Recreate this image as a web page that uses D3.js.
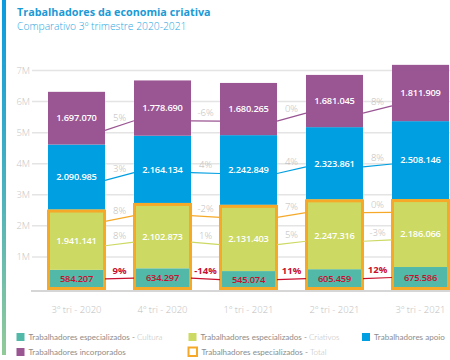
<!DOCTYPE html>
<html>
<head>
<meta charset="utf-8">
<script src="https://cdn.jsdelivr.net/npm/d3@7"></script>
<style>
  html, body { margin: 0; padding: 0; background: #fff; }
  svg { display: block; font-family: "Open Sans", "Noto Sans", sans-serif; }
</style>
</head>
<body>
<svg id="chart" width="450" height="360"></svg>
<script>
// ---- Data ----
const title = "Trabalhadores da economia criativa";
const subtitle = "Comparativo 3º trimestre 2020-2021";
const categories = ["3º tri - 2020", "4º tri - 2020", "1º tri - 2021", "2º tri - 2021", "3º tri - 2021"];
const cultura      = [584207, 634297, 545074, 605459, 675586];
const criativos    = [1941141, 2102873, 2131403, 2247316, 2186066];
const apoio        = [2090985, 2164134, 2242849, 2323861, 2508146];
const incorporados = [1697070, 1778690, 1680265, 1681045, 1811909];
const yTicks = [1000000, 2000000, 3000000, 4000000, 5000000, 6000000, 7000000];
const yTickLabels = ["1M", "2M", "3M", "4M", "5M", "6M", "7M"];
const seriesKeys = ["cultura", "criativos", "apoio", "incorporados"];
const legendMain = ["Trabalhadores especializados - ", "Trabalhadores especializados - ", "Trabalhadores apoio", "Trabalhadores incorporados", "Trabalhadores especializados - "];
const legendSub  = ["Cultura", "Criativos", "", "", "Total"];

// ---- Styles ----
const colors = { cultura: "#52b9a9", criativos: "#ccd962", apoio: "#009fe1", incorporados: "#9a5593" };
const lineColors = { cultura: "#c8102e", criativos: "#ccd962", apoio: "#009fe1", incorporados: "#9a5593", total: "#f6a929" };
const anchorFrac = { cultura: 0.5, criativos: 0.4, apoio: 0.45, incorporados: 0.27 };
const orange = "#f6a929";
const red = "#c8102e";

const svg = d3.select("#chart");

// left gradient strip
const defs = svg.append("defs");
const grad = defs.append("linearGradient").attr("id", "strip").attr("x1", 0).attr("y1", 0).attr("x2", 0).attr("y2", 1);
grad.append("stop").attr("offset", "0%").attr("stop-color", "#0a9be0");
grad.append("stop").attr("offset", "55%").attr("stop-color", "#4db3bd");
grad.append("stop").attr("offset", "100%").attr("stop-color", "#92ca98");
svg.append("rect").attr("x", 2).attr("y", 0).attr("width", 4).attr("height", 355).attr("fill", "url(#strip)");

// title
svg.append("text").attr("x", 17).attr("y", 16).attr("font-size", 10.8).attr("font-weight", 700)
  .attr("fill", "#1b9ad6").text(title);
svg.append("text").attr("x", 17).attr("y", 29.5).attr("font-size", 10.3).attr("font-weight", 300)
  .attr("fill", "#2ba7df").text(subtitle);

// data table
const table = categories.map((c, i) => ({
  cat: c, cultura: cultura[i], criativos: criativos[i], apoio: apoio[i], incorporados: incorporados[i]
}));
const stacked = d3.stack().keys(seriesKeys)(table);

const x = d3.scaleBand().domain(categories).range([48, 449]).paddingInner(0.337).paddingOuter(0);
const y = d3.scaleLinear().domain([0, 7000000]).range([288, 70.5]);
const bw = x.bandwidth();

// grid
const grid = svg.append("g");
grid.selectAll("line").data(yTicks).join("line")
  .attr("x1", 32).attr("x2", 450)
  .attr("y1", d => y(d)).attr("y2", d => y(d))
  .attr("stroke", "#e4e4e4").attr("stroke-width", 1.5);
grid.selectAll("text").data(yTicks).join("text")
  .attr("x", 30).attr("y", d => y(d)).attr("dy", "0.35em")
  .attr("text-anchor", "end").attr("font-size", 9.5).attr("font-weight", 300)
  .attr("fill", "#c6c6c6").text((d, i) => yTickLabels[i]);
// baseline
svg.append("line").attr("x1", 31).attr("x2", 450).attr("y1", y(0) + 3).attr("y2", y(0) + 3)
  .attr("stroke", "#c9c9c9").attr("stroke-width", 1.5);

// bars
const bars = svg.append("g");
stacked.forEach(s => {
  bars.selectAll(null).data(s).join("rect")
    .attr("x", d => x(d.data.cat))
    .attr("width", bw)
    .attr("y", d => y(d[1]))
    .attr("height", d => y(d[0]) - y(d[1]))
    .attr("fill", colors[s.key]);
});

// total box (especializados = cultura + criativos)
const totals = table.map(d => d.cultura + d.criativos);
svg.append("g").selectAll("rect").data(table).join("rect")
  .attr("x", d => x(d.cat) - 1 + 1.5)
  .attr("y", (d, i) => y(totals[i]) + 1.5)
  .attr("width", bw + 2 - 3)
  .attr("height", (d, i) => (y(0) + 2) - y(totals[i]) - 3)
  .attr("fill", "none").attr("stroke", orange).attr("stroke-width", 3);

// connector lines + percent labels
const fmtPct = v => Math.round(v * 100) + "%";
const conn = svg.append("g");
function connector(yAt, vals, color, labelColor, bold) {
  for (let i = 0; i < categories.length - 1; i++) {
    const x1 = x(categories[i]) + bw, x2 = x(categories[i + 1]);
    const y1 = yAt(i), y2 = yAt(i + 1);
    conn.append("line").attr("x1", x1).attr("x2", x2).attr("y1", y1).attr("y2", y2)
      .attr("stroke", color).attr("stroke-width", 1.2);
    conn.append("text").attr("x", (x1 + x2) / 2).attr("y", (y1 + y2) / 2 - 8).attr("dy", "0.35em")
      .attr("text-anchor", "middle").attr("font-size", 9.5)
      .attr("font-weight", bold ? 700 : 300)
      .attr("fill", labelColor).text(fmtPct(vals[i + 1] / vals[i] - 1));
  }
}
stacked.forEach(s => {
  const vals = s.map(d => d.data[s.key]);
  connector(i => y(s[i][0] + anchorFrac[s.key] * (s[i][1] - s[i][0])), vals,
    lineColors[s.key], s.key === "cultura" ? red : "#b9b9b9", s.key === "cultura");
});
connector(i => y(0.85 * totals[i]), totals, lineColors.total, "#b9b9b9", false);

// value labels
const loc = d3.formatLocale({ decimal: ",", thousands: ".", grouping: [3], currency: ["", ""] });
const fmt = loc.format(",d");
const lab = svg.append("g");
stacked.forEach(s => {
  lab.selectAll(null).data(s).join("text")
    .attr("x", d => x(d.data.cat) + bw / 2)
    .attr("y", d => (y(d[0]) + y(d[1])) / 2 + (s.key === "criativos" ? 1 : 0))
    .attr("dy", "0.35em")
    .attr("text-anchor", "middle").attr("font-size", 9.3).attr("font-weight", 600)
    .attr("letter-spacing", -0.2)
    .attr("fill", s.key === "cultura" ? red : "#ffffff")
    .text(d => fmt(d.data[s.key]));
});

// x labels
svg.append("g").selectAll("text").data(categories).join("text")
  .attr("x", d => x(d) + bw / 2).attr("y", 310).attr("dy", "0.35em")
  .attr("text-anchor", "middle").attr("font-size", 9.5).attr("font-weight", 300)
  .attr("fill", "#bdbdbd").text(d => d);

// legend
const legendPos = [[16.5, 337], [188.5, 337], [362, 337], [16.5, 352], [188.5, 352]];
const legendSwatch = ["cultura", "criativos", "apoio", "incorporados", "total"];
const leg = svg.append("g").style("font-family", "Lato, 'Open Sans', sans-serif");
const legTexts = [];
legendSwatch.forEach((k, i) => {
  const [lx, ly] = legendPos[i];
  if (k === "total") {
    leg.append("rect").attr("x", lx).attr("y", ly - 4.5).attr("width", 8.5).attr("height", 8.5)
      .attr("fill", "#fff").attr("stroke", orange).attr("stroke-width", 2);
  } else {
    leg.append("rect").attr("x", lx).attr("y", ly - 4).attr("width", 8).attr("height", 8).attr("fill", colors[k]);
  }
  const t = leg.append("text").attr("x", lx + (k === "total" ? 13 : 12)).attr("y", ly).attr("dy", "0.35em")
    .attr("font-size", 10);
  t.append("tspan").attr("fill", "#8d8d8d").attr("font-weight", 400).text(legendMain[i]);
  if (legendSub[i]) t.append("tspan").attr("fill", "#b9b9b9").attr("font-weight", 300).text(legendSub[i]);
  legTexts.push(t);
});
// fit legend font so first entry spans ~134px like the reference
const w0 = legTexts[0].node().getComputedTextLength();
const legSize = Math.min(9.5, 10 * 134 / w0);
legTexts.forEach(t => t.attr("font-size", legSize));
</script>
</body>
</html>
